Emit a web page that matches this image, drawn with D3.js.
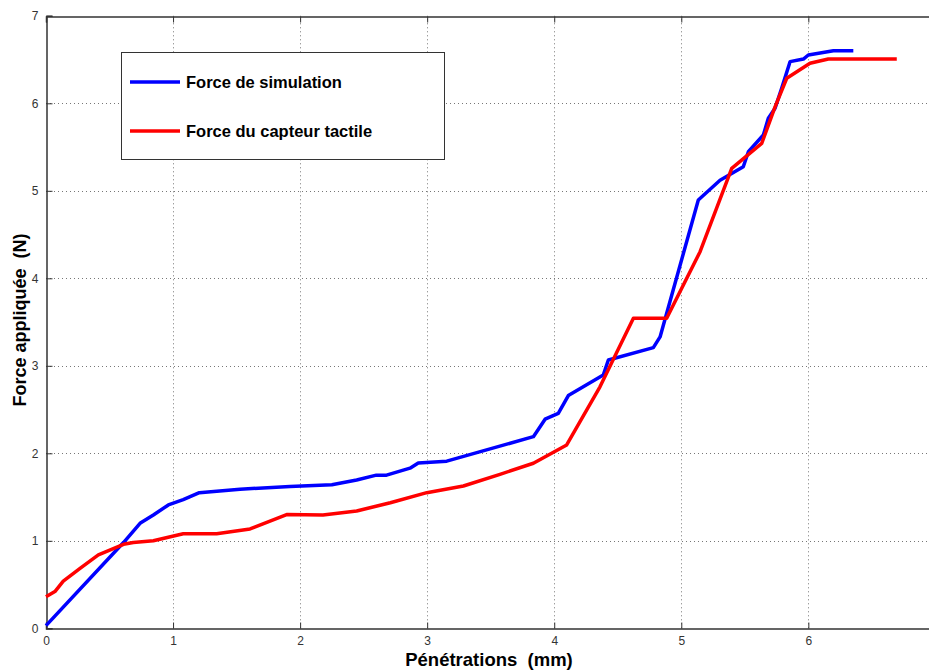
<!DOCTYPE html>
<html><head><meta charset="utf-8">
<script src="https://cdn.jsdelivr.net/npm/d3@7"></script>
<style>body{margin:0;background:#fff}svg{display:block}text{white-space:pre}</style>
</head><body>
<svg id="c" width="929" height="671"></svg>
<script>
const xTicks = [0,1,2,3,4,5,6];
const yTicks = [0,1,2,3,4,5,6,7];
const seriesNames = ["Force de simulation", "Force du capteur tactile"];
const simX = [0,0.61,0.74,0.845,0.963,1.08,1.207,1.527,1.92,2.25,2.445,2.6,2.68,2.865,2.93,3.154,3.836,3.928,4.032,4.111,4.386,4.426,4.78,4.833,5.134,5.305,5.488,5.528,5.646,5.685,5.738,5.79,5.856,5.961,6.0,6.197,6.354];
const simY = [0.03,0.98,1.2,1.295,1.41,1.47,1.55,1.59,1.62,1.64,1.695,1.75,1.75,1.83,1.89,1.91,2.19,2.39,2.457,2.66,2.895,3.066,3.207,3.33,4.895,5.12,5.275,5.447,5.638,5.829,5.943,6.171,6.476,6.506,6.552,6.6,6.6];
const capX = [0,0.07,0.136,0.268,0.412,0.61,0.687,0.845,1.08,1.343,1.606,1.894,2.18,2.445,2.71,2.997,3.285,3.573,3.836,4.098,4.36,4.623,4.885,5.148,5.397,5.633,5.738,5.83,6.013,6.157,6.696];
const capY = [0.36,0.42,0.54,0.686,0.84,0.96,0.98,1.0,1.08,1.08,1.135,1.30,1.295,1.34,1.435,1.55,1.626,1.76,1.886,2.095,2.76,3.543,3.543,4.304,5.257,5.543,5.96,6.286,6.457,6.506,6.506];
const colors = ["#0000ff", "#ff0000"];

const svg = d3.select("#c");
const x = d3.scaleLinear().domain([0,7]).range([46, 935.4]);
const y = d3.scaleLinear().domain([0,7]).range([628.3, 15.8]);
const X0 = x(0), Y0 = y(0), Y7 = y(7), X7 = x(7);

// grid
const g = svg.append("g");
g.selectAll("line.gx").data(xTicks.filter(d=>d>0)).join("line")
  .attr("x1", d=>Math.round(x(d))+0.5).attr("x2", d=>Math.round(x(d))+0.5)
  .attr("y1", Y0).attr("y2", Y7)
  .attr("stroke","#777").attr("stroke-width",1).attr("stroke-dasharray","1,3");
g.selectAll("line.gy").data(yTicks.filter(d=>d>0 && d<7)).join("line")
  .attr("y1", d=>Math.round(y(d))+0.5).attr("y2", d=>Math.round(y(d))+0.5)
  .attr("x1", X0).attr("x2", X7)
  .attr("stroke","#777").attr("stroke-width",1).attr("stroke-dasharray","1,3");

// axes
const xAxis = d3.axisBottom(x).tickValues(xTicks).tickSize(-6).tickPadding(8).tickFormat(d3.format("d"));
const yAxis = d3.axisLeft(y).tickValues(yTicks).tickSize(-6).tickPadding(8).tickFormat(d3.format("d"));
const xTop = d3.axisTop(x).tickValues(xTicks).tickSize(-6).tickFormat("");
const ax = svg.append("g").attr("transform",`translate(0,${Math.round(Y0)+0.5})`).call(xAxis);
const ay = svg.append("g").attr("transform",`translate(${Math.round(X0)+0.5},0)`).call(yAxis);
const at = svg.append("g").attr("transform",`translate(0,${Math.round(Y7)+0.5})`).call(xTop);
[ax,ay,at].forEach(a=>{
  a.select(".domain").attr("stroke","#333").attr("stroke-width",1.5);
  a.selectAll(".tick line").attr("stroke","#333");
  a.selectAll("text").attr("fill","#333").attr("font-family","Liberation Sans, Arial, sans-serif").attr("font-size",12);
});

// lines
const line = d3.line().x(d=>x(d[0])).y(d=>y(d[1]));
const simData = simX.map((v,i)=>[v, simY[i]]);
const capData = capX.map((v,i)=>[v, capY[i]]);
[simData, capData].forEach((d,i)=>{
  svg.append("path").datum(d).attr("d", line).attr("fill","none")
    .attr("stroke", colors[i]).attr("stroke-width",3.5).attr("stroke-linejoin","round");
});

// legend
const lg = svg.append("g");
lg.append("rect").attr("x",121.5).attr("y",52.5).attr("width",323).attr("height",107)
  .attr("fill","#fff").attr("stroke","#333").attr("stroke-width",1);
seriesNames.forEach((n,i)=>{
  const yy = 82 + i*49;
  lg.append("line").attr("x1",130).attr("x2",180).attr("y1",yy).attr("y2",yy)
    .attr("stroke",colors[i]).attr("stroke-width",3.5);
  lg.append("text").attr("x",186).attr("y",yy+6).text(n)
    .attr("font-family","Liberation Sans, Arial, sans-serif").attr("font-weight","bold").attr("font-size",16.5).attr("fill","#000");
});

// axis labels
svg.append("text").attr("x",489).attr("y",666).attr("text-anchor","middle")
  .attr("font-family","Liberation Sans, Arial, sans-serif").attr("font-weight","bold").attr("font-size",18.5)
  .text("Pénétrations  (mm)");
svg.append("text").attr("transform","translate(26,320) rotate(-90)").attr("text-anchor","middle")
  .attr("font-family","Liberation Sans, Arial, sans-serif").attr("font-weight","bold").attr("font-size",18)
  .text("Force appliquée  (N)");
</script>
</body></html>
